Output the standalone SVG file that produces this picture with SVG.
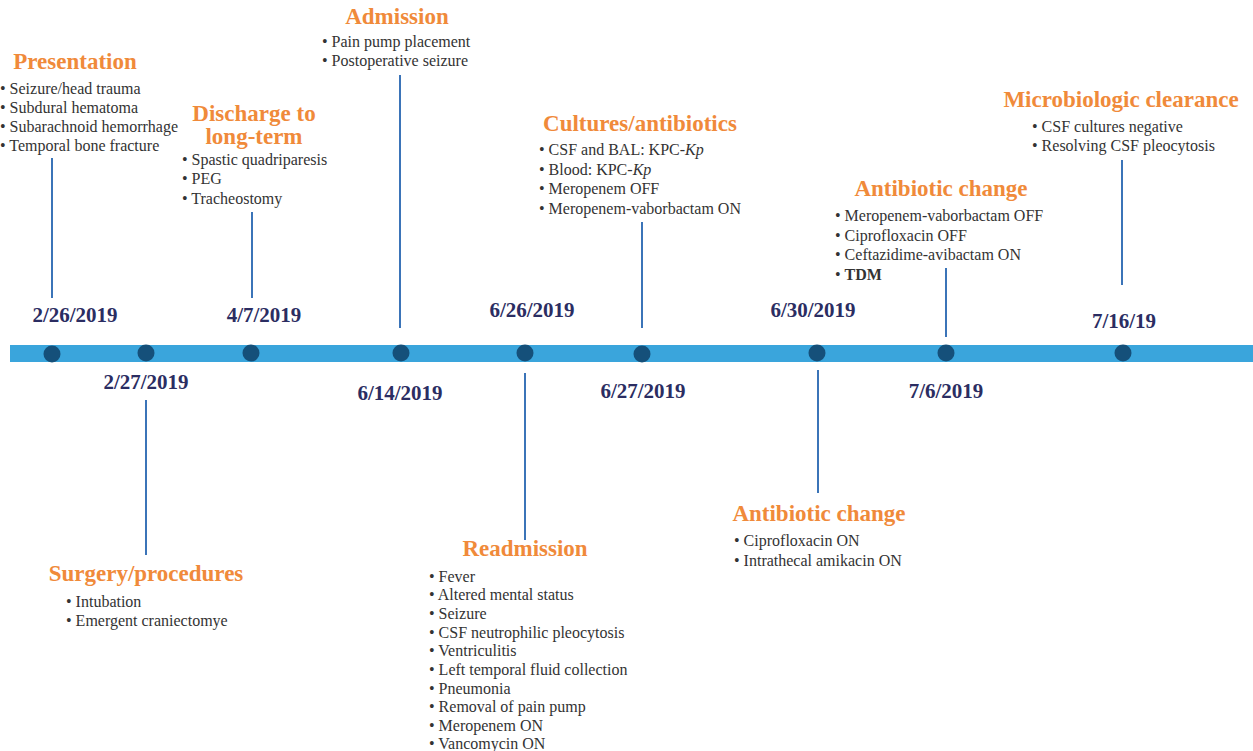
<svg xmlns="http://www.w3.org/2000/svg" width="1253" height="751" viewBox="0 0 1253 751">
<style>
.h{font-family:"Liberation Serif","DejaVu Serif",serif;font-weight:bold;font-size:23px;fill:#f08a3a;text-anchor:middle}
.b{font-family:"Liberation Serif","DejaVu Serif",serif;font-size:16px;fill:#333}
.d{font-family:"Liberation Serif","DejaVu Serif",serif;font-weight:bold;font-size:21px;fill:#2b2d62;text-anchor:middle}
.c{stroke:#3b74b8;stroke-width:2;fill:none}
.dot{fill:#15507a}
</style>
<rect width="1253" height="751" fill="#fff"/>
<g id="timeline">
<rect x="10" y="345" width="1243" height="17" fill="#3aa5dc"/>
</g>
<g id="connectors">
<line class="c" x1="52" y1="158" x2="52" y2="298"/>
<line class="c" x1="146" y1="400" x2="146" y2="555"/>
<line class="c" x1="252" y1="212" x2="252" y2="298"/>
<line class="c" x1="400" y1="75" x2="400" y2="328"/>
<line class="c" x1="525" y1="373" x2="525" y2="540"/>
<line class="c" x1="642" y1="222" x2="642" y2="328"/>
<line class="c" x1="818" y1="370" x2="818" y2="493"/>
<line class="c" x1="946" y1="268" x2="946" y2="337"/>
<line class="c" x1="1122" y1="160" x2="1122" y2="285"/>
</g>
<g id="dots">
<circle class="dot" cx="52" cy="354" r="8.5"/>
<circle class="dot" cx="146" cy="353" r="8.5"/>
<circle class="dot" cx="251" cy="353" r="8.5"/>
<circle class="dot" cx="401" cy="353" r="8.5"/>
<circle class="dot" cx="525" cy="353" r="8.5"/>
<circle class="dot" cx="642" cy="354" r="8.5"/>
<circle class="dot" cx="817" cy="353" r="8.5"/>
<circle class="dot" cx="946" cy="353" r="8.5"/>
<circle class="dot" cx="1123" cy="353" r="8.5"/>
</g>
<g id="dates">
<text class="d" x="75" y="322">2/26/2019</text>
<text class="d" x="146" y="389">2/27/2019</text>
<text class="d" x="264" y="322">4/7/2019</text>
<text class="d" x="400" y="400">6/14/2019</text>
<text class="d" x="532" y="317">6/26/2019</text>
<text class="d" x="643" y="398">6/27/2019</text>
<text class="d" x="813" y="317">6/30/2019</text>
<text class="d" x="946" y="398">7/6/2019</text>
<text class="d" x="1124" y="328">7/16/19</text>
</g>
<g id="presentation">
<text class="h" x="75" y="69">Presentation</text>
<text class="b" x="0" y="94">• Seizure/head trauma</text>
<text class="b" x="0" y="113">• Subdural hematoma</text>
<text class="b" x="0" y="132">• Subarachnoid hemorrhage</text>
<text class="b" x="0" y="151">• Temporal bone fracture</text>
</g>
<g id="surgery">
<text class="h" x="146" y="581">Surgery/procedures</text>
<text class="b" x="66" y="607">• Intubation</text>
<text class="b" x="66" y="626">• Emergent craniectomye</text>
</g>
<g id="discharge">
<text class="h" x="254" y="121">Discharge to</text>
<text class="h" x="254" y="144">long-term</text>
<text class="b" x="182" y="165">• Spastic quadriparesis</text>
<text class="b" x="182" y="184">• PEG</text>
<text class="b" x="182" y="204">• Tracheostomy</text>
</g>
<g id="admission">
<text class="h" x="397" y="24">Admission</text>
<text class="b" x="322" y="47">• Pain pump placement</text>
<text class="b" x="322" y="66">• Postoperative seizure</text>
</g>
<g id="readmission">
<text class="h" x="525" y="556">Readmission</text>
<text class="b" x="429" y="582">• Fever</text>
<text class="b" x="429" y="600">• Altered mental status</text>
<text class="b" x="429" y="619">• Seizure</text>
<text class="b" x="429" y="638">• CSF neutrophilic pleocytosis</text>
<text class="b" x="429" y="656">• Ventriculitis</text>
<text class="b" x="429" y="675">• Left temporal fluid collection</text>
<text class="b" x="429" y="694">• Pneumonia</text>
<text class="b" x="429" y="712">• Removal of pain pump</text>
<text class="b" x="429" y="731">• Meropenem ON</text>
<text class="b" x="429" y="749">• Vancomycin ON</text>
</g>
<g id="cultures">
<text class="h" x="640" y="131">Cultures/antibiotics</text>
<text class="b" x="539" y="155">• CSF and BAL: KPC-<tspan font-style="italic">Kp</tspan></text>
<text class="b" x="539" y="175">• Blood: KPC-<tspan font-style="italic">Kp</tspan></text>
<text class="b" x="539" y="194">• Meropenem OFF</text>
<text class="b" x="539" y="214">• Meropenem-vaborbactam ON</text>
</g>
<g id="abx-change-1">
<text class="h" x="819" y="521">Antibiotic change</text>
<text class="b" x="734" y="546">• Ciprofloxacin ON</text>
<text class="b" x="734" y="566">• Intrathecal amikacin ON</text>
</g>
<g id="abx-change-2">
<text class="h" x="941" y="196">Antibiotic change</text>
<text class="b" x="835" y="221">• Meropenem-vaborbactam OFF</text>
<text class="b" x="835" y="241">• Ciprofloxacin OFF</text>
<text class="b" x="835" y="260">• Ceftazidime-avibactam ON</text>
<text class="b" x="835" y="280">• <tspan font-weight="bold">TDM</tspan></text>
</g>
<g id="clearance">
<text class="h" x="1121" y="107">Microbiologic clearance</text>
<text class="b" x="1032" y="132">• CSF cultures negative</text>
<text class="b" x="1032" y="151">• Resolving CSF pleocytosis</text>
</g>
</svg>
